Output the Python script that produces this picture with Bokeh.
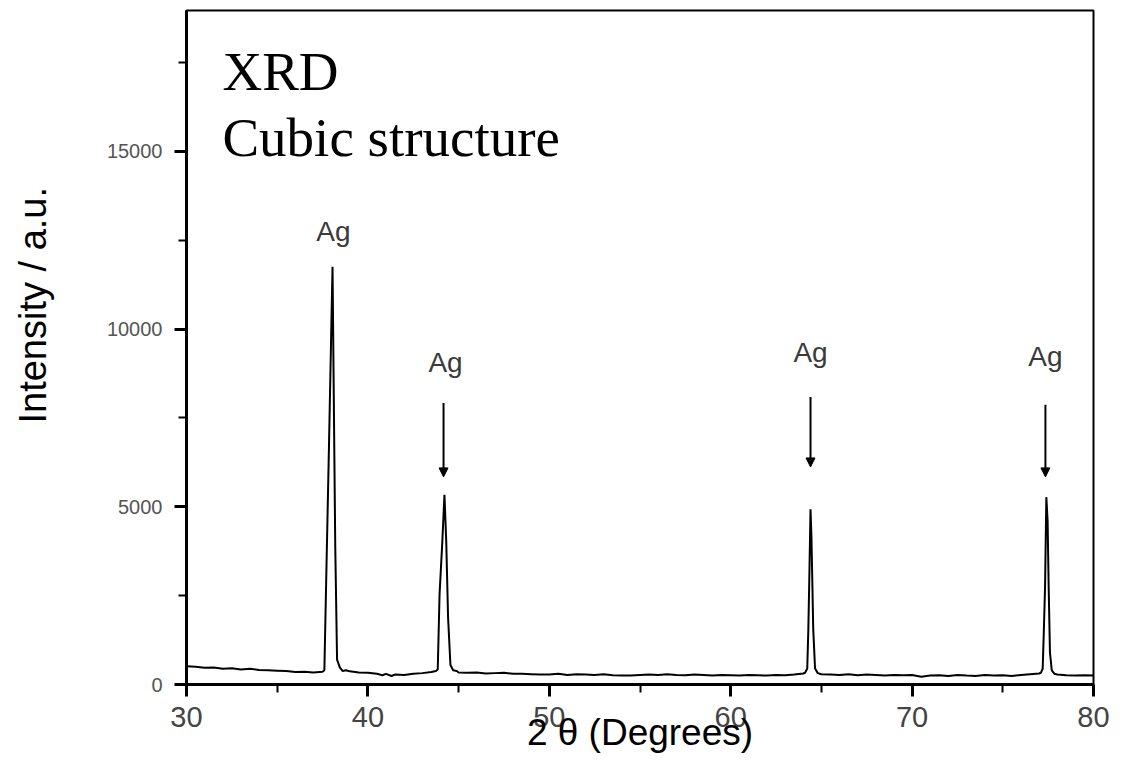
from bokeh.plotting import figure
from bokeh.models import (Range1d, SingleIntervalTicker, ColumnDataSource, Arrow,
                          NormalHead, Label)
from bokeh.core.properties import value
from bokeh.embed import file_html
from bokeh.resources import INLINE

# ---- data ----
two_theta = [
    30.0, 30.5, 31.0, 31.5, 32.0, 32.5, 33.0, 33.5, 34.0, 34.5, 35.0, 35.5, 36.0, 36.5, 37.0, 37.5,
    37.6, 37.7, 37.85, 38.05, 38.2, 38.3, 38.45, 38.6,
    38.8, 39.0, 39.5, 40.0, 40.5, 40.8, 41.0, 41.3, 41.5, 42.0, 42.5, 43.0, 43.5, 43.75,
    43.85, 43.95, 44.1, 44.22, 44.32, 44.42, 44.55, 44.7,
    44.9, 45.0, 45.5, 46.0, 46.5, 47.0, 47.5, 48.0, 48.5, 49.0, 49.5, 50.0, 50.5, 51.0, 51.5,
    52.0, 52.5, 53.0, 53.5, 54.0, 54.5, 55.0, 55.5, 56.0, 56.5, 57.0, 57.5, 58.0, 58.5, 59.0,
    59.5, 60.0, 60.5, 61.0, 61.5, 62.0, 62.5, 63.0, 63.5, 64.0,
    64.1, 64.22, 64.28, 64.33, 64.4, 64.45, 64.5, 64.55, 64.65, 64.8,
    65.0, 65.5, 66.0, 66.5, 67.0, 67.5, 68.0, 68.5, 69.0, 69.5, 70.0, 70.5, 71.0, 71.5, 72.0,
    72.5, 73.0, 73.5, 74.0, 74.5, 75.0, 75.5, 76.0, 76.5, 77.0,
    77.1, 77.2, 77.27, 77.33, 77.4, 77.47, 77.53, 77.6, 77.7, 77.85,
    78.0, 78.5, 79.0, 79.5, 80.0,
]
intensity = [
    510, 500, 470, 480, 440, 460, 420, 440, 410, 400, 390, 380, 350, 360, 340, 360,
    400, 2900, 6600, 11750, 3900, 700, 480, 380,
    400, 370, 340, 330, 300, 260, 300, 240, 280, 270, 300, 320, 350, 380,
    420, 2530, 3990, 5340, 4000, 1880, 550, 400,
    380, 340, 330, 340, 310, 320, 330, 300, 300, 290, 280, 280, 300, 270, 290,
    280, 270, 290, 260, 250, 250, 270, 280, 270, 290, 270, 260, 280, 270, 250,
    270, 260, 250, 270, 260, 250, 270, 260, 280, 310,
    330, 450, 1550, 2880, 4930, 4170, 2880, 1550, 450, 320,
    290, 280, 270, 290, 260, 280, 270, 250, 270, 260, 270, 220, 250, 260, 240,
    270, 250, 240, 270, 250, 260, 240, 270, 290, 310,
    330, 450, 1650, 2750, 5270, 4600, 2700, 900, 400, 300,
    280, 260, 250, 260, 250,
]

label_x = [38.1, 44.28, 64.4, 77.35]
label_y = [12750, 9070, 9350, 9240]
label_text = ["Ag", "Ag", "Ag", "Ag"]

arrow_x = [44.17, 64.4, 77.35]
arrow_y_start = [7920, 8090, 7870]
arrow_y_end = [5840, 6120, 5840]

title_lines = ["XRD", "Cubic structure"]
title_x = [31.98, 31.98]
title_y = [17250, 15390]

x_title = "2 θ (Degrees)"
y_title = "Intensity / a.u."
x_ticks_interval = 10
y_ticks_interval = 5000

# ---- figure ----
p = figure(width=1116, height=755, output_backend="svg", toolbar_location=None,
           x_range=Range1d(30, 80), y_range=Range1d(0, 18960),
           min_border_left=186, min_border_right=23, min_border_top=10, min_border_bottom=70)
p.grid.visible = False
p.background_fill_color = "white"
p.border_fill_color = "white"
p.outline_line_color = "black"
p.outline_line_width = 2

p.line(two_theta, intensity, line_color="black", line_width=2)

# annotations
p.text(x=label_x, y=label_y, text=label_text, text_align="center", text_baseline="alphabetic",
       text_font=value("Liberation Sans"), text_font_size="28px", text_color="#3a3a3a")

src = ColumnDataSource(dict(x0=arrow_x, y0=arrow_y_start, x1=arrow_x, y1=arrow_y_end))
p.add_layout(Arrow(x_start="x0", y_start="y0", x_end="x1", y_end="y1", source=src,
                   line_color="black", line_width=2,
                   end=NormalHead(size=9, fill_color="black", line_color="black")))

for t, xx, yy in zip(title_lines, title_x, title_y):
    p.add_layout(Label(x=xx, y=yy, text=t, text_font="Liberation Serif", text_font_size="55px",
                       text_color="black", text_baseline="alphabetic", text_align="left"))

# axes
xa = p.xaxis[0]
xa.ticker = SingleIntervalTicker(interval=x_ticks_interval, num_minor_ticks=2)
xa.axis_line_width = 3
xa.major_tick_line_width = 3
xa.minor_tick_line_width = 2
xa.major_tick_out = 12
xa.major_tick_in = 0
xa.minor_tick_out = 8
xa.minor_tick_in = 0
xa.major_label_text_font = "Liberation Sans"
xa.major_label_text_font_size = "29px"
xa.major_label_text_color = "#444444"
xa.major_label_standoff = 10
xa.axis_label = x_title
xa.axis_label_text_font = "Liberation Sans"
xa.axis_label_text_font_size = "37px"
xa.axis_label_text_font_style = "normal"
xa.axis_label_text_color = "black"
xa.axis_label_standoff = -18

ya = p.yaxis[0]
ya.ticker = SingleIntervalTicker(interval=y_ticks_interval, num_minor_ticks=2)
ya.axis_line_width = 3
ya.major_tick_line_width = 3
ya.minor_tick_line_width = 2
ya.major_tick_out = 12
ya.major_tick_in = 0
ya.minor_tick_out = 8
ya.minor_tick_in = 0
ya.major_label_text_font = "Liberation Sans"
ya.major_label_text_font_size = "20px"
ya.major_label_text_color = "#555555"
ya.major_label_standoff = 12
ya.major_label_orientation = "horizontal"
# leading no-break spaces shift the centred title upward, as in the reference
ya.axis_label = "\u00a0" * 8 + y_title
ya.axis_label_text_font = "Liberation Sans"
ya.axis_label_text_font_size = "38px"
ya.axis_label_text_font_style = "normal"
ya.axis_label_text_color = "black"
ya.axis_label_standoff = 50

open("out.html", "w").write(file_html(p, INLINE))
